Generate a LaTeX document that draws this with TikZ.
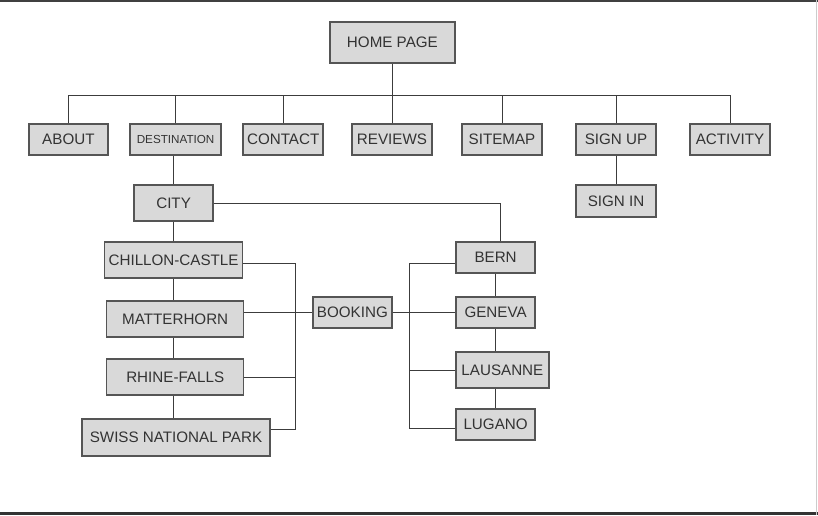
\documentclass[tikz,border=0pt]{standalone}
\usepackage{fontspec}
\setmainfont{Liberation Sans}
\usepackage{tikz}

\definecolor{boxfill}{HTML}{D9D9D9}
\definecolor{boxline}{HTML}{555555}
\definecolor{wireline}{HTML}{3C3C3C}
\definecolor{txtgray}{HTML}{333333}

\begin{document}
\begin{tikzpicture}[
  pgbox/.style={rectangle, draw=boxline, fill=boxfill, line width=1.1pt, minimum width=20.0mm, minimum height=7.75mm, inner sep=1.0pt, text=txtgray, font={\fontsize{10.8}{12}\selectfont}},
  pgedge/.style={draw=wireline, line width=0.7pt}
]
\useasboundingbox (0,0) rectangle (20.45,-12.875);
% frame lines of the screenshot
\draw[line width=1.4pt, black!75] (0,-0.025) -- (20.45,-0.025);
\draw[line width=2.1pt, black!80] (0,-12.84) -- (20.45,-12.84);
\draw[line width=0.7pt, black!20] (20.40,0) -- (20.40,-12.875);

% top level
\node[pgbox, minimum width=31.25mm, minimum height=10.25mm] (home) at (9.81,-1.06) {HOME PAGE};
\node[pgbox, minimum width=19.75mm] (about) at (1.71,-3.49) {ABOUT};
\node[pgbox, minimum width=22.75mm, font={\fontsize{8.3}{10}\selectfont}] (destination) at (4.39,-3.49) {DESTINATION};
\node[pgbox] (contact) at (7.08,-3.49) {CONTACT};
\node[pgbox] (reviews) at (9.80,-3.49) {REVIEWS};
\node[pgbox] (sitemap) at (12.55,-3.49) {SITEMAP};
\node[pgbox] (signup) at (15.40,-3.49) {SIGN UP};
\node[pgbox] (activity) at (18.25,-3.49) {ACTIVITY};
\node[pgbox, minimum height=8.0mm] (signin) at (15.40,-5.03) {SIGN IN};

% destinations
\node[pgbox, minimum width=19.75mm, minimum height=9.0mm] (city) at (4.34,-5.08) {CITY};
\node[pgbox, minimum width=34.5mm, minimum height=9.0mm] (chillon) at (4.34,-6.50) {CHILLON-CASTLE};
\node[pgbox, minimum width=34.25mm, minimum height=9.0mm] (matterhorn) at (4.38,-7.98) {MATTERHORN};
\node[pgbox, minimum width=34.25mm, minimum height=9.0mm] (rhine) at (4.38,-9.43) {RHINE-FALLS};
\node[pgbox, minimum width=47.0mm, minimum height=9.25mm] (swiss) at (4.40,-10.94) {SWISS NATIONAL PARK};

% booking and cities
\node[pgbox, minimum width=19.75mm] (booking) at (8.81,-7.81) {BOOKING};
\node[pgbox, minimum width=19.75mm] (bern) at (12.39,-6.44) {BERN};
\node[pgbox, minimum width=19.75mm] (geneva) at (12.39,-7.81) {GENEVA};
\node[pgbox, minimum width=23.25mm, minimum height=9.0mm] (lausanne) at (12.56,-9.25) {LAUSANNE};
\node[pgbox, minimum width=19.75mm] (lugano) at (12.39,-10.61) {LUGANO};

\coordinate (bus) at (9.81,-2.38);
\coordinate (ltop) at (7.38,-6.58);
\coordinate (lbot) at (7.38,-10.73);
\coordinate (rtop) at (10.23,-6.58);
\coordinate (rbot) at (10.23,-10.70);

% menu bus
\draw[pgedge] (home.south) -- (bus);
\draw[pgedge] (about.north) |- (bus) -| (activity.north);
\foreach \n in {destination,contact,reviews,sitemap,signup}
  \draw[pgedge] (\n.north) -- (\n.north |- bus);
\draw[pgedge] (signup) -- (signin);
\draw[pgedge] (city.north) -- (city.north |- destination.south);

% city column
\foreach \a/\b in {city/chillon, chillon/matterhorn, matterhorn/rhine, rhine/swiss}
  \draw[pgedge] (city.south |- \a.south) -- (city.south |- \b.north);
\draw[pgedge] (city.east) -| ([xshift=1.25mm]bern.north);

% brackets round booking
\draw[pgedge] (chillon.east |- ltop) -- (ltop) -- (lbot) -- (swiss.east |- lbot);
\draw[pgedge] (rhine.east) -- (rhine.east -| ltop);
\draw[pgedge] (matterhorn.east |- booking) -- (booking.west);
\draw[pgedge] (bern.west |- rtop) -- (rtop) -- (rbot) -- (lugano.west |- rbot);
\draw[pgedge] (booking.east) -- (geneva.west);
\draw[pgedge] (lausanne.west) -- (lausanne.west -| rtop);

% right column
\foreach \a/\b in {bern/geneva, geneva/lausanne, lausanne/lugano}
  \draw[pgedge] (bern.south |- \a.south) -- (bern.south |- \b.north);
\end{tikzpicture}
\end{document}
